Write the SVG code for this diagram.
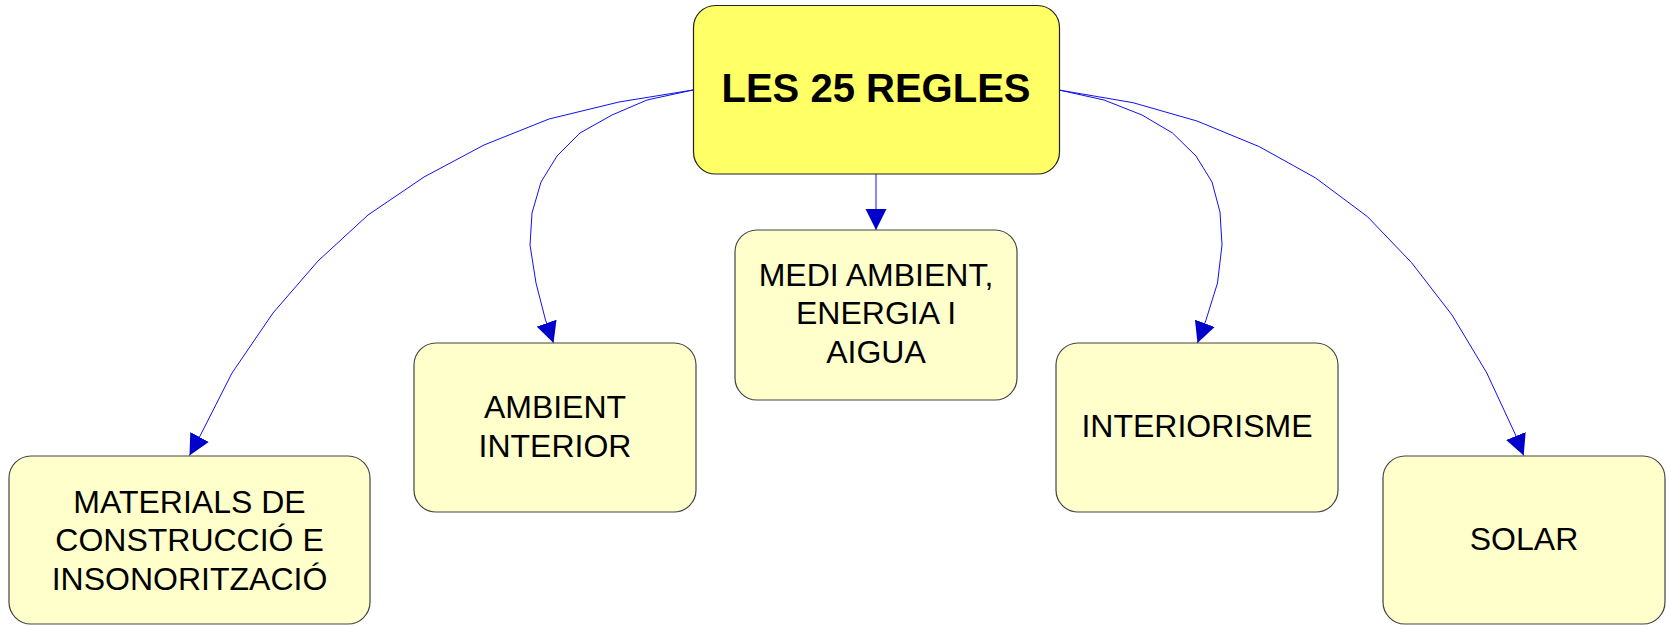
<svg xmlns="http://www.w3.org/2000/svg" width="1666" height="626" viewBox="0 0 1666 626">
<style>
.box{fill:#FFFFCC;stroke:#444;stroke-width:1.2}
.root{fill:#FFFF66;stroke:#222;stroke-width:1.2}
.lbl{font-family:"Liberation Sans",Arial,sans-serif;font-size:32px;fill:#000;text-anchor:middle}
.title{font-family:"Liberation Sans",Arial,sans-serif;font-size:40px;font-weight:bold;fill:#000;text-anchor:middle}
.edge{fill:none;stroke:#1010F0;stroke-width:1;marker-end:url(#arr)}
</style>
<defs>
<marker id="arr" markerUnits="userSpaceOnUse" markerWidth="22" markerHeight="22" refX="21" refY="10.5" orient="auto" viewBox="0 0 22 21">
<path d="M0,0 L21,10.5 L0,21 z" fill="#0000CC"/>
</marker>
</defs>
<rect width="1666" height="626" fill="#fff"/>
<g id="connectors">
<polyline class="edge" points="693,90 619,102 549,119 484,145 424,177 368,215 318,261 273,313 232,373 199,438 189.5,455.5"/>
<polyline class="edge" points="693,90 647,100 612,115 580,133 557,156 541,182 532,213 530,245 536,283 545.5,320 553.5,343"/>
<polyline class="edge" points="876,174 876,230"/>
<polyline class="edge" points="1059,90 1104,100 1142,115 1172.5,133 1196,156 1212,182 1220,212 1222,245 1217.5,283 1206,320 1197.5,343"/>
<polyline class="edge" points="1059,90 1133,102.7 1197,121 1259.4,146.7 1315.7,178 1367.5,216.7 1411.6,262.7 1452,315 1486.8,373 1514.7,433 1523.7,455.5"/>
</g>
<g id="root">
<rect class="root" x="693.5" y="5.5" width="366" height="168.5" rx="22" ry="22"/>
<text class="title" x="876" y="101.5">LES 25 REGLES</text>
</g>
<g id="materials">
<rect class="box" x="9" y="456" width="361" height="168" rx="22" ry="22"/>
<text class="lbl" x="189.5" y="512.5">MATERIALS DE</text>
<text class="lbl" x="189.5" y="551">CONSTRUCCIÓ E</text>
<text class="lbl" x="189.5" y="589.5">INSONORITZACIÓ</text>
</g>
<g id="ambient">
<rect class="box" x="414" y="343" width="282" height="169" rx="22" ry="22"/>
<text class="lbl" x="555" y="418.3">AMBIENT</text>
<text class="lbl" x="555" y="456.7">INTERIOR</text>
</g>
<g id="medi">
<rect class="box" x="735" y="230" width="282" height="170" rx="22" ry="22"/>
<text class="lbl" x="876" y="286">MEDI AMBIENT,</text>
<text class="lbl" x="876" y="324.3">ENERGIA I</text>
<text class="lbl" x="876" y="362.7">AIGUA</text>
</g>
<g id="interiorisme">
<rect class="box" x="1056" y="343" width="282" height="169" rx="22" ry="22"/>
<text class="lbl" x="1197" y="437.3">INTERIORISME</text>
</g>
<g id="solar">
<rect class="box" x="1383" y="456" width="282" height="168" rx="22" ry="22"/>
<text class="lbl" x="1524" y="550">SOLAR</text>
</g>
</svg>
